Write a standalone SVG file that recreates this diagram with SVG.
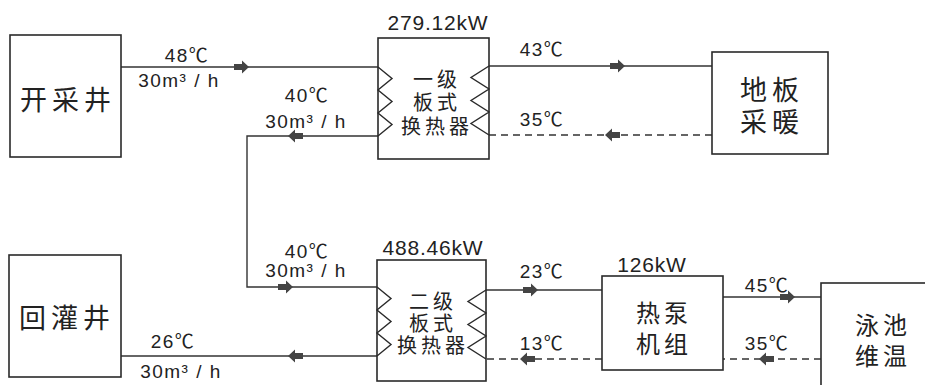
<svg xmlns="http://www.w3.org/2000/svg" xmlns:xlink="http://www.w3.org/1999/xlink" width="925" height="385" viewBox="0 0 925 385">
<style>
.box{fill:#fff;stroke:#2a2a2a;stroke-width:1.6}
.zz{fill:none;stroke:#2a2a2a;stroke-width:1.4;stroke-linejoin:miter}
.ln{fill:none;stroke:#333;stroke-width:1.4}
.dash{fill:none;stroke:#333;stroke-width:1.4;stroke-dasharray:7 5}
.lbl{font-family:"Liberation Sans","Noto Sans CJK SC",sans-serif;font-size:19px;fill:#222;text-anchor:middle;letter-spacing:1.5px}
.kw{font-family:"Liberation Sans",sans-serif;font-size:21px;fill:#222;text-anchor:middle;letter-spacing:0.8px}
.big{font-family:"Noto Sans CJK SC",sans-serif;font-size:27px;fill:#222;text-anchor:middle;letter-spacing:5px}
.mid{font-family:"Noto Sans CJK SC",sans-serif;font-size:24px;fill:#222;text-anchor:middle;letter-spacing:4px}
.hx{font-family:"Noto Sans CJK SC",sans-serif;font-size:20px;fill:#222;text-anchor:middle;letter-spacing:4px}
.ar{fill:#444}
</style>
<defs>
<path id="arR" d="M-8 -3 H0 V-6.5 L7 0 L0 6.5 V3 H-8 Z"/>
<path id="arL" d="M8 -3 H0 V-6.5 L-7 0 L0 6.5 V3 H8 Z"/>
</defs>
<rect width="925" height="385" fill="#fff"/>

<g id="connectors">
<path class="ln" d="M121 67 H378"/>
<path class="ln" d="M489 66 H712"/>
<path class="dash" d="M712 135 H489"/>
<path class="ln" d="M378 136 H247 V287 H377"/>
<path class="ln" d="M377 356 H121"/>
<path class="ln" d="M486 290 H602"/>
<path class="dash" d="M602 359 H486"/>
<path class="ln" d="M723 297 H821"/>
<path class="dash" d="M821 359 H723"/>
<g class="ar">
<use xlink:href="#arR" href="#arR" x="242" y="67"/>
<use xlink:href="#arR" href="#arR" x="618" y="66"/>
<use xlink:href="#arL" href="#arL" x="612" y="135"/>
<use xlink:href="#arL" href="#arL" x="295" y="136"/>
<use xlink:href="#arR" href="#arR" x="286" y="287"/>
<use xlink:href="#arL" href="#arL" x="295" y="356"/>
<use xlink:href="#arR" href="#arR" x="531" y="290"/>
<use xlink:href="#arL" href="#arL" x="527" y="359"/>
<use xlink:href="#arR" href="#arR" x="788" y="297"/>
<use xlink:href="#arL" href="#arL" x="766" y="359"/>
</g>
<text class="lbl" x="187" y="62">48℃</text>
<text class="lbl" x="179" y="87">30m³ / h</text>
<text class="lbl" x="307" y="102">40℃</text>
<text class="lbl" x="306" y="128">30m³ / h</text>
<text class="lbl" x="542" y="56">43℃</text>
<text class="lbl" x="542" y="126">35℃</text>
<text class="lbl" x="307" y="258">40℃</text>
<text class="lbl" x="306" y="277">30m³ / h</text>
<text class="lbl" x="173" y="348">26℃</text>
<text class="lbl" x="181" y="378">30m³ / h</text>
<text class="lbl" x="542" y="278">23℃</text>
<text class="lbl" x="542" y="350">13℃</text>
<text class="lbl" x="767" y="292">45℃</text>
<text class="lbl" x="767" y="350">35℃</text>
</g>

<g id="well-out">
<rect class="box" x="10" y="35" width="111" height="122"/>
<text class="big" x="68" y="110">开采井</text>
</g>

<g id="well-in">
<rect class="box" x="9" y="255" width="112" height="122"/>
<text class="big" x="67" y="328">回灌井</text>
</g>

<g id="hx1">
<text class="kw" x="438" y="30">279.12kW</text>
<rect class="box" x="378" y="38" width="111" height="121"/>
<path class="zz" d="M378 67 L392 78.5 L378 90 L392 101.5 L378 113 L392 124.5 L378 136"/>
<path class="zz" d="M489 66 L471 77.5 L489 89 L471 100.5 L489 112 L471 123.5 L489 135"/>
<text class="hx" x="437" y="87">一级</text>
<text class="hx" x="437" y="110">板式</text>
<text class="hx" x="437" y="134">换热器</text>
</g>

<g id="floor-heating">
<rect class="box" x="712" y="52" width="116" height="102"/>
<text class="big" x="772" y="100">地板</text>
<text class="big" x="772" y="132">采暖</text>
</g>

<g id="hx2">
<text class="kw" x="433" y="255">488.46kW</text>
<rect class="box" x="377" y="260" width="109" height="121"/>
<path class="zz" d="M377 287 L391 298.5 L377 310 L391 321.5 L377 333 L391 344.5 L377 356"/>
<path class="zz" d="M486 290 L468 301.5 L486 313 L468 324.5 L486 336 L468 347.5 L486 359"/>
<text class="hx" x="433" y="309">二级</text>
<text class="hx" x="433" y="331">板式</text>
<text class="hx" x="433" y="353">换热器</text>
</g>

<g id="heat-pump">
<text class="kw" x="652" y="272">126kW</text>
<rect class="box" x="602" y="276" width="121" height="94"/>
<text class="mid" x="664" y="322">热泵</text>
<text class="mid" x="664" y="353">机组</text>
</g>

<g id="pool">
<rect class="box" x="821" y="283" width="110" height="110"/>
<text class="mid" x="883" y="334">泳池</text>
<text class="mid" x="883" y="365">维温</text>
</g>
</svg>
